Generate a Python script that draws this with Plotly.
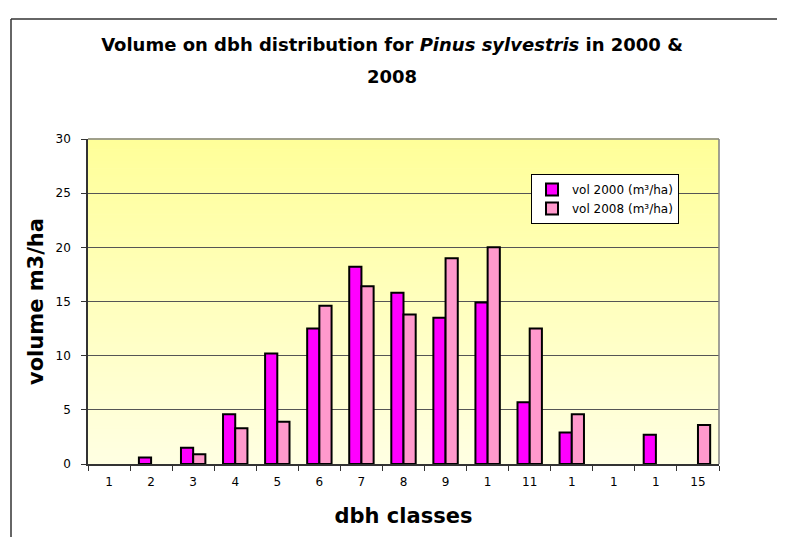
import plotly.graph_objects as go

# ---- data ----
classes = list(range(1, 16))
tick_labels = ["1", "2", "3", "4", "5", "6", "7", "8", "9", "1", "11", "1", "1", "1", "15"]
vol_2000 = [0, 0.6, 1.5, 4.6, 10.2, 12.5, 18.2, 15.8, 13.5, 14.9, 5.7, 2.9, 0, 2.7, 0]
vol_2008 = [0, 0, 0.9, 3.3, 3.9, 14.6, 16.4, 13.8, 19.0, 20.0, 12.5, 4.6, 0, 0, 3.6]
series_names = ["vol 2000 (m³/ha)", "vol 2008 (m³/ha)"]

FONT = "DejaVu Sans, Liberation Sans, Arial, sans-serif"

# page has an 8px body margin
OFF = 8
W, H = 785 - OFF, 537 - OFF
L, R, T, B = 88 - OFF, 719 - OFF, 139 - OFF, 464 - OFF
pw, ph = R - L, B - T

def px_x(p):  # page px -> paper
    return (p - OFF - L) / pw

def px_y(p):
    return (B - (p - OFF)) / ph

def hide_zero(vals):
    return [v if v else None for v in vals]

fig = go.Figure()
fig.add_trace(go.Bar(x=classes, y=hide_zero(vol_2000), name=series_names[0],
                     marker=dict(color="#FF00FF", line=dict(color="black", width=2))))
fig.add_trace(go.Bar(x=classes, y=hide_zero(vol_2008), name=series_names[1],
                     marker=dict(color="#FF99CC", line=dict(color="black", width=2))))

# gradient background bands
shapes = []
n = 120
top = (255, 255, 153)
bot = (255, 255, 226)
for i in range(n):
    f = i / (n - 1)
    c = tuple(round(bot[k] + (top[k] - bot[k]) * f) for k in range(3))
    shapes.append(dict(type="rect", xref="paper", yref="paper",
                       x0=0, x1=1, y0=i / n, y1=(i + 1) / n + 0.002,
                       fillcolor="rgb(%d,%d,%d)" % c, line=dict(width=0), layer="below"))
# plot area border top/right gray
shapes.append(dict(type="line", xref="paper", yref="paper", x0=0, x1=1, y0=1, y1=1,
                   line=dict(color="#808080", width=1.5)))
shapes.append(dict(type="line", xref="paper", yref="paper", x0=1, x1=1, y0=0, y1=1,
                   line=dict(color="#808080", width=1.5)))
# chart area border (left/top visible)
shapes.append(dict(type="line", xref="paper", yref="paper", x0=px_x(11), x1=px_x(810),
                   y0=px_y(19), y1=px_y(19), line=dict(color="#333333", width=1.5)))
shapes.append(dict(type="line", xref="paper", yref="paper", x0=px_x(11), x1=px_x(11),
                   y0=px_y(19), y1=px_y(570), line=dict(color="#333333", width=1.5)))

fig.update_layout(
    width=W, height=H,
    margin=dict(l=L, r=W - R, t=T, b=H - B),
    paper_bgcolor="white",
    plot_bgcolor="#FFFFCC",
    barmode="group",
    bargap=0.42,
    bargroupgap=0,
    font=dict(family=FONT, size=12, color="black"),
    title=dict(text="<b>Volume on dbh distribution for <i>Pinus sylvestris</i> in 2000 &amp;</b>",
               x=(392 - OFF) / W, xref="container", xanchor="center",
               y=1 - (45 - OFF) / H, yref="container", yanchor="middle",
               font=dict(family=FONT, size=18, color="black")),
    annotations=[dict(text="<b>2008</b>", xref="paper", yref="paper", x=px_x(392),
                      y=px_y(77), xanchor="center", yanchor="middle", showarrow=False,
                      font=dict(family=FONT, size=18, color="black"))],
    legend=dict(x=px_x(531), y=px_y(174), xanchor="left", yanchor="top",
                bgcolor="white", bordercolor="black", borderwidth=1,
                font=dict(family=FONT, size=12), itemwidth=30,
                tracegroupgap=2),
    shapes=shapes,
    showlegend=True,
    xaxis=dict(range=[0.5, 15.5], tickmode="array", tickvals=classes, ticktext=tick_labels,
               ticks="", ticklabelstandoff=6,
               minor=dict(tickmode="array", tickvals=[i + 0.5 for i in range(0, 16)],
                          ticks="outside", ticklen=5, tickcolor="#333333", showgrid=False),
               showgrid=False, zeroline=False, showline=True, linecolor="#333333",
               linewidth=1.5, tickfont=dict(family=FONT, size=12),
               title=dict(text="<b>dbh classes</b>", standoff=20,
                          font=dict(family=FONT, size=21))),
    yaxis=dict(range=[0, 30], dtick=5, ticks="outside", ticklen=5, tickcolor="#333333",
               ticklabelstandoff=8,
               showgrid=True, gridcolor="#555555", gridwidth=1,
               zeroline=False, showline=True, linecolor="#333333", linewidth=1.5,
               tickfont=dict(family=FONT, size=12),
               title=dict(text="<b>volume m3/ha</b>", standoff=6,
                          font=dict(family=FONT, size=21))),
)

fig.write_html("out.html")
